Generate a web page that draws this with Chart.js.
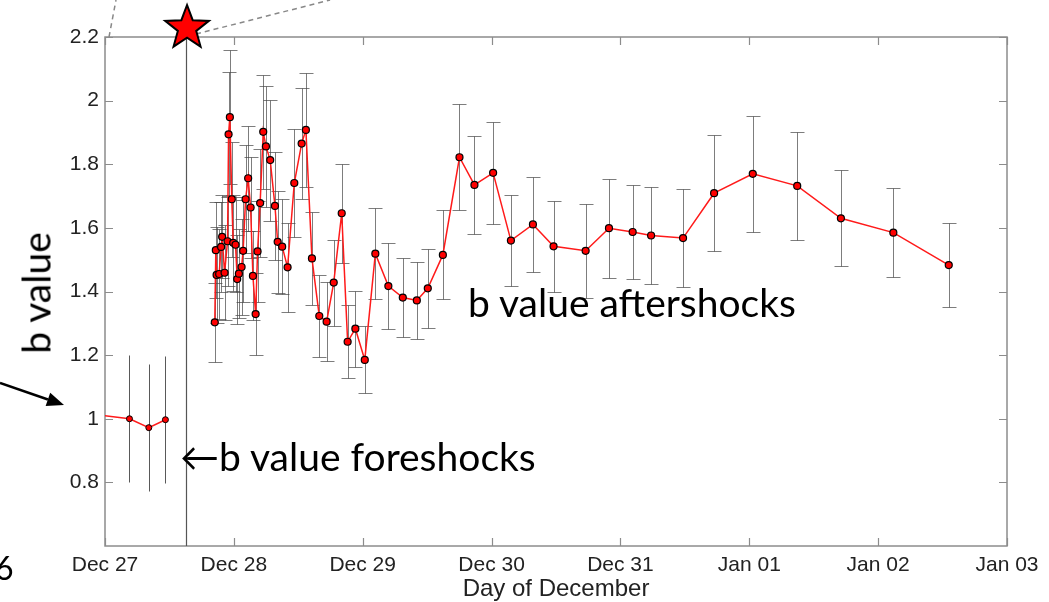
<!DOCTYPE html>
<html>
<head>
<meta charset="utf-8">
<script src="https://cdn.jsdelivr.net/npm/chart.js@4/dist/chart.umd.min.js"></script>
<style>
  html, body { margin: 0; padding: 0; background: #fff; }
  #wrap { position: relative; width: 1049px; height: 602px; overflow: hidden; background: #fff; }
  #c { position: absolute; left: 0; top: 0; }
  .note { position: absolute; font-family: Lato, "Noto Sans", sans-serif; color: #000; white-space: nowrap; line-height: 1; }
  #ylab { left: 36px; top: 293px; font-size: 39px; transform: translate(-50%, -50%) rotate(-90deg); }
  #after { left: 468px; top: 283px; font-size: 39px; }
  #fore { left: 180px; top: 437px; font-size: 39px; }
  #six { left: -5px; top: 552px; font-size: 32px; }
</style>
</head>
<body>
<div id="wrap">
  <canvas id="c" width="1049" height="602"></canvas>
  <div class="note" id="ylab">b value</div>
  <div class="note" id="after">b value aftershocks</div>
  <div class="note" id="fore">&larr;b value foreshocks</div>
  <div class="note" id="six">6</div>
</div>
<script>
// Axis labels
const xTickLabels = ['Dec 27', 'Dec 28', 'Dec 29', 'Dec 30', 'Dec 31', 'Jan 01', 'Jan 02', 'Jan 03'];
const yTickLabels = ['0.8', '1', '1.2', '1.4', '1.6', '1.8', '2', '2.2'];

// Time of the mainshock (days after Dec 27 00:00)
const mainshockDay = 0.629;

// Foreshock b values (time in days after Dec 27, b value, 1-sigma error)
const foreDays = [-0.200, 0.190, 0.340, 0.469];
const foreB    = [1.020, 1.000, 0.972, 0.997];
const foreErr  = [0.200, 0.200, 0.200, 0.200];

// Aftershock b values
const afterDays = [
  0.852, 0.860, 0.866, 0.886, 0.901, 0.909, 0.928, 0.951, 0.959, 0.969,
  0.984, 0.995, 1.013, 1.026, 1.039, 1.060, 1.072, 1.091, 1.111, 1.130,
  1.148, 1.169, 1.184, 1.204, 1.228, 1.249, 1.282, 1.319, 1.340, 1.375,
  1.417, 1.469, 1.526, 1.559, 1.606, 1.663, 1.720, 1.775, 1.837, 1.883,
  1.943, 2.016, 2.098, 2.199, 2.311, 2.420, 2.505, 2.622, 2.751, 2.867,
  3.012, 3.150, 3.321, 3.481, 3.730, 3.911, 4.095, 4.238, 4.486, 4.727,
  5.027, 5.372, 5.711, 6.118, 6.548
];
const afterB = [
  1.303, 1.530, 1.452, 1.455, 1.540, 1.572, 1.459, 1.558, 1.894, 1.948,
  1.690, 1.553, 1.547, 1.439, 1.456, 1.477, 1.528, 1.690, 1.756, 1.664,
  1.449, 1.329, 1.526, 1.678, 1.902, 1.856, 1.813, 1.669, 1.556, 1.541,
  1.476, 1.741, 1.865, 1.908, 1.504, 1.323, 1.305, 1.428, 1.646, 1.242,
  1.283, 1.185, 1.519, 1.417, 1.381, 1.372, 1.410, 1.515, 1.822, 1.735,
  1.773, 1.560, 1.611, 1.542, 1.528, 1.599, 1.587, 1.576, 1.568, 1.709,
  1.770, 1.732, 1.630, 1.585, 1.483
];
const afterErr = [
  0.125, 0.150, 0.150, 0.140, 0.140, 0.130, 0.150, 0.140, 0.195, 0.210,
  0.180, 0.150, 0.150, 0.140, 0.140, 0.150, 0.160, 0.170, 0.165, 0.160,
  0.140, 0.130, 0.160, 0.170, 0.180, 0.190, 0.190, 0.170, 0.160, 0.150,
  0.140, 0.170, 0.175, 0.180, 0.145, 0.130, 0.125, 0.135, 0.155, 0.115,
  0.120, 0.105, 0.142, 0.134, 0.124, 0.121, 0.125, 0.140, 0.166, 0.155,
  0.160, 0.142, 0.150, 0.144, 0.147, 0.155, 0.147, 0.152, 0.154, 0.183,
  0.183, 0.169, 0.151, 0.139, 0.133
];

const yTickValues = yTickLabels.map(parseFloat);
const toPoints = (xs, ys) => xs.map((d, i) => ({ x: d, y: ys[i] }));

// Vertical error bars, drawn behind the series
const errorBars = {
  id: 'errorBars',
  beforeDatasetsDraw(chart) {
    const { ctx, chartArea: a, scales: { x, y } } = chart;
    ctx.save();
    ctx.beginPath();
    ctx.rect(a.left, a.top, a.right - a.left, a.bottom - a.top);
    ctx.clip();
    chart.data.datasets.forEach(ds => {
      if (!ds.errors) return;
      ctx.strokeStyle = ds.errColor;
      ctx.lineWidth = 1;
      ds.data.forEach((p, i) => {
        const px = Math.round(x.getPixelForValue(p.x)) + 0.5;
        const yt = Math.round(y.getPixelForValue(p.y + ds.errors[i])) + 0.5;
        const yb = Math.round(y.getPixelForValue(p.y - ds.errors[i])) + 0.5;
        ctx.beginPath();
        ctx.moveTo(px, yt); ctx.lineTo(px, yb);
        if (ds.cap) {
          ctx.moveTo(px - ds.cap, yt); ctx.lineTo(px + ds.cap, yt);
          ctx.moveTo(px - ds.cap, yb); ctx.lineTo(px + ds.cap, yb);
        }
        ctx.stroke();
      });
    });
    ctx.restore();
  }
};

// Axes box with inward ticks, mainshock marker line
const frame = {
  id: 'frame',
  beforeDatasetsDraw(chart) {
    const { ctx, chartArea: a, scales: { x, y } } = chart;
    ctx.save();
    ctx.strokeStyle = '#8c8c8c';
    ctx.lineWidth = 1.5;
    ctx.strokeRect(a.left, a.top, a.right - a.left, a.bottom - a.top);
    const tl = 8;
    ctx.lineWidth = 1.2;
    ctx.beginPath();
    x.ticks.forEach(t => {
      const px = Math.round(x.getPixelForValue(t.value)) + 0.5;
      ctx.moveTo(px, a.bottom); ctx.lineTo(px, a.bottom - tl);
      ctx.moveTo(px, a.top); ctx.lineTo(px, a.top + tl);
    });
    y.ticks.forEach(t => {
      const py = Math.round(y.getPixelForValue(t.value)) + 0.5;
      ctx.moveTo(a.left, py); ctx.lineTo(a.left + tl, py);
      ctx.moveTo(a.right, py); ctx.lineTo(a.right - tl, py);
    });
    ctx.stroke();
    // mainshock time
    const mx = Math.round(x.getPixelForValue(mainshockDay)) + 0.5;
    ctx.strokeStyle = '#555';
    ctx.lineWidth = 1.2;
    ctx.beginPath();
    ctx.moveTo(mx, a.bottom); ctx.lineTo(mx, a.top);
    ctx.stroke();
    ctx.restore();
  },
  afterDraw(chart) {
    const { ctx, chartArea: a, scales: { x } } = chart;
    const mx = x.getPixelForValue(mainshockDay);
    const cx = mx + 1, cy = a.top - 9, R = 23, r = R * 0.42;
    ctx.save();
    // dashed guide lines leaving the top of the panel
    ctx.strokeStyle = '#888';
    ctx.lineWidth = 1.5;
    ctx.setLineDash([5, 4]);
    ctx.beginPath();
    ctx.moveTo(a.left + 4, a.top); ctx.lineTo(a.left + 11, 0);
    ctx.moveTo(cx + 9, cy + 6); ctx.lineTo(cx + 143, 0);
    ctx.stroke();
    ctx.setLineDash([]);
    // mainshock star
    ctx.beginPath();
    for (let k = 0; k < 10; k++) {
      const ang = -Math.PI / 2 + k * Math.PI / 5;
      const rr = k % 2 === 0 ? R : r;
      const px = cx + rr * Math.cos(ang), py = cy + rr * Math.sin(ang);
      if (k === 0) ctx.moveTo(px, py); else ctx.lineTo(px, py);
    }
    ctx.closePath();
    ctx.fillStyle = '#ff0000';
    ctx.fill();
    ctx.strokeStyle = '#000';
    ctx.lineWidth = 2;
    ctx.lineJoin = 'miter';
    ctx.stroke();
    // pointer arrow from the left margin
    const x0 = 0, y0 = 383, x1 = 64, y1 = 405;
    const ang = Math.atan2(y1 - y0, x1 - x0);
    const hl = 17, hw = 7;
    const bx = x1 - hl * Math.cos(ang), by = y1 - hl * Math.sin(ang);
    ctx.strokeStyle = '#000';
    ctx.lineWidth = 2.5;
    ctx.beginPath();
    ctx.moveTo(x0, y0); ctx.lineTo(bx, by);
    ctx.stroke();
    ctx.fillStyle = '#000';
    ctx.beginPath();
    ctx.moveTo(x1, y1);
    ctx.lineTo(bx + hw * Math.sin(ang), by - hw * Math.cos(ang));
    ctx.lineTo(bx - hw * Math.sin(ang), by + hw * Math.cos(ang));
    ctx.closePath();
    ctx.fill();
    ctx.restore();
  }
};

const tickFont = { family: '"Liberation Sans", Arial, sans-serif', size: 21 };
const titleFont = { family: '"Liberation Sans", Arial, sans-serif', size: 24, lineHeight: 1.0 };

new Chart(document.getElementById('c'), {
  type: 'line',
  data: {
    datasets: [
      {
        label: 'foreshocks',
        data: toPoints(foreDays, foreB),
        errors: foreErr,
        errColor: 'rgba(60,60,60,0.85)',
        cap: 0,
        borderColor: '#ff1a1a',
        borderWidth: 1.5,
        pointRadius: 3,
        pointBackgroundColor: '#ff0000',
        pointBorderColor: '#000',
        pointBorderWidth: 1,
        tension: 0
      },
      {
        label: 'aftershocks',
        data: toPoints(afterDays, afterB),
        errors: afterErr,
        errColor: 'rgba(70,70,70,0.7)',
        cap: 7,
        borderColor: '#ff1a1a',
        borderWidth: 1.5,
        pointRadius: 3.5,
        pointBackgroundColor: '#ff0000',
        pointBorderColor: '#000',
        pointBorderWidth: 1.2,
        tension: 0
      }
    ]
  },
  options: {
    responsive: false,
    animation: false,
    events: [],
    layout: { padding: { left: 0, right: 42, top: 37, bottom: 0 } },
    plugins: { legend: { display: false }, tooltip: { enabled: false } },
    scales: {
      x: {
        type: 'linear',
        min: 0,
        max: 7,
        afterBuildTicks: s => { s.ticks = xTickLabels.map((_, i) => ({ value: i })); },
        afterFit: s => { s.height = 56; },
        grid: { display: false, drawTicks: false },
        border: { display: false },
        ticks: {
          autoSkip: false, maxRotation: 0, padding: 7,
          color: '#222', font: tickFont,
          callback: v => xTickLabels[Math.round(v)]
        },
        title: {
          display: true, text: 'Day of December',
          color: '#222', font: titleFont, padding: { top: 0, bottom: 1 }
        }
      },
      y: {
        type: 'linear',
        min: 0.6,
        max: 2.2,
        afterBuildTicks: s => { s.ticks = yTickValues.map(v => ({ value: v })); },
        afterFit: s => { s.width = 105; },
        grid: { display: false, drawTicks: false },
        border: { display: false },
        ticks: {
          padding: 6, color: '#222', font: tickFont,
          callback: v => yTickLabels[yTickValues.indexOf(v)] ?? ''
        }
      }
    }
  },
  plugins: [errorBars, frame]
});
</script>
</body>
</html>
